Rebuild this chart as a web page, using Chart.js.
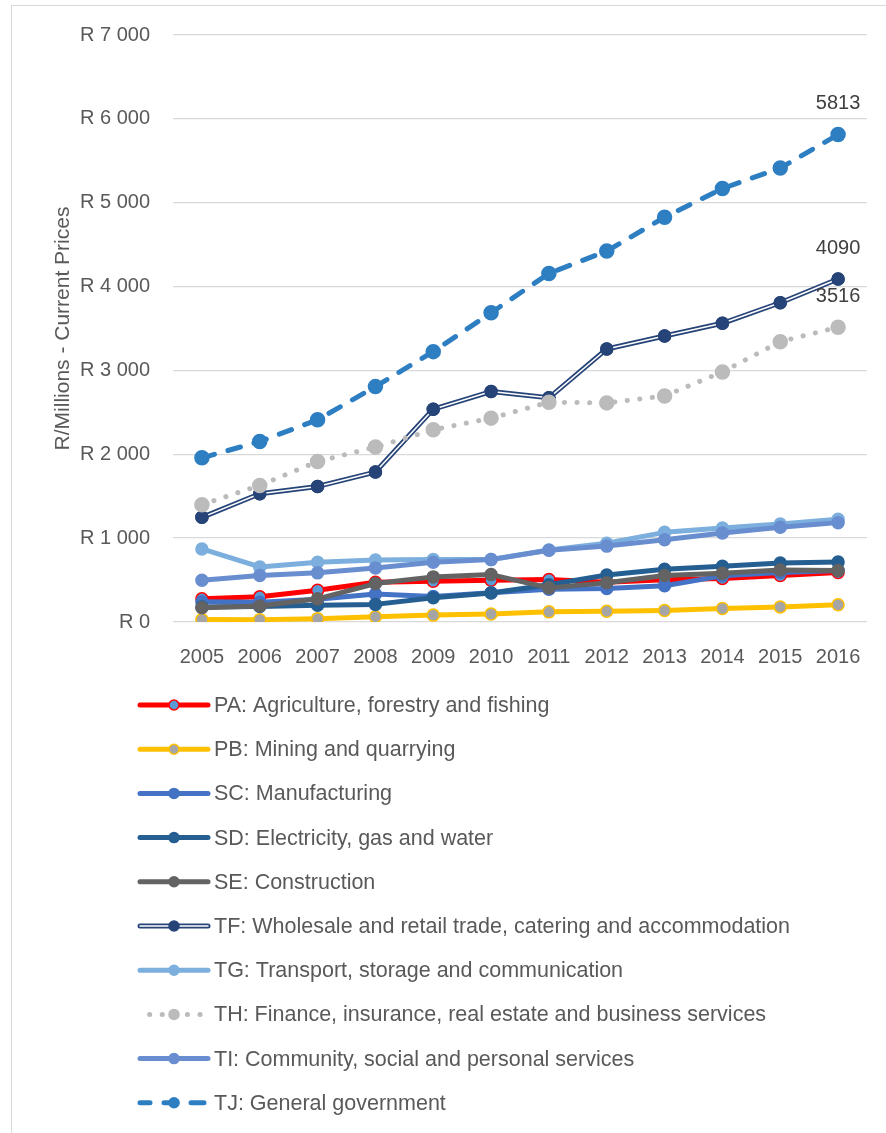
<!DOCTYPE html>
<html>
<head>
<meta charset="utf-8">
<script src="https://cdn.jsdelivr.net/npm/chart.js@4.4.1/dist/chart.umd.min.js"></script>
<style>
  html, body { margin: 0; padding: 0; background: #fff; overflow: hidden; }
  #wrap { position: relative; width: 886px; height: 1133px; }
  #frame { position: absolute; left: 11px; top: 5px; right: -5px; bottom: -5px; border: 1px solid #d9d9d9; }
  #chart { position: absolute; left: 0; top: 0; }
</style>
</head>
<body>
<div id="wrap">
  <div id="frame"></div>
  <canvas id="chart" width="886" height="1133"></canvas>
</div>
<script>
// GDP by industry, R millions at current prices
const years = ['2005', '2006', '2007', '2008', '2009', '2010', '2011', '2012', '2013', '2014', '2015', '2016'];

const agriculture   = [276, 300, 379, 474, 486, 498, 508, 475, 505, 520, 555, 590];
const mining        = [30, 28, 40, 62, 82, 95, 121, 127, 137, 161, 180, 205];
const manufacturing = [240, 235, 272, 335, 305, 350, 390, 400, 432, 550, 590, 615];
const electricity   = [178, 185, 200, 210, 288, 345, 445, 560, 628, 665, 703, 715];
const construction  = [169, 190, 276, 458, 538, 565, 407, 467, 555, 580, 620, 615];
const trade         = [1248, 1530, 1617, 1788, 2538, 2748, 2673, 3256, 3411, 3562, 3807, 4090];
const transport     = [871, 657, 712, 740, 744, 745, 858, 940, 1069, 1121, 1169, 1225];
const finance       = [1399, 1629, 1914, 2086, 2292, 2431, 2621, 2613, 2696, 2982, 3343, 3516];
const community     = [498, 554, 586, 645, 712, 744, 855, 905, 982, 1062, 1129, 1185];
const government    = [1958, 2152, 2411, 2807, 3224, 3688, 4157, 4423, 4827, 5169, 5413, 5813];

const FONT = "'Liberation Sans', Arial, sans-serif";
const TEXT = '#595959';

function series(label, data, color, extra) {
  return Object.assign({
    label: label,
    data: data,
    borderColor: color,
    backgroundColor: color,
    pointBackgroundColor: color,
    pointBorderColor: color,
    borderWidth: 5,
    pointRadius: 6,
    pointBorderWidth: 1.5,
    tension: 0,
    borderCapStyle: 'round',
    borderJoinStyle: 'round',
    fill: false
  }, extra || {});
}

const datasets = [
  series('PA: Agriculture, forestry and fishing', agriculture, '#FF0000', { pointBackgroundColor: '#5B9BD5' }),
  series('PB: Mining and quarrying', mining, '#FFC000', { pointBackgroundColor: '#A5A5A5' }),
  series('SC: Manufacturing', manufacturing, '#4472C4'),
  series('SD: Electricity, gas and water', electricity, '#255E91'),
  series('SE: Construction', construction, '#636363'),
  series('TF: Wholesale and retail trade, catering and accommodation', trade, '#264478', { doubleLine: true, endLabel: true }),
  series('TG: Transport, storage and communication', transport, '#7CAFDD'),
  series('TH: Finance, insurance, real estate and business services', finance, '#BBBBBB', { borderDash: [0.1, 12.5], pointRadius: 7, endLabel: true }),
  series('TI: Community, social and personal services', community, '#698ED0'),
  series('TJ: General government', government, '#2E7EC2', { borderDash: [13, 14], pointRadius: 7, endLabel: true })
];
// later series sit on top of earlier ones
datasets.forEach((ds, i) => { ds.order = datasets.length - i; });

function randThousands(v) {
  return 'R ' + String(v).replace(/\B(?=(\d{3})+(?!\d))/g, ' ');
}

// white core stroke for the double-line series, then points again on top
const doubleLine = {
  id: 'doubleLine',
  afterDatasetDraw(chart, args) {
    const ds = chart.data.datasets[args.index];
    if (!ds.doubleLine) return;
    const pts = args.meta.data;
    const ctx = chart.ctx;
    ctx.save();
    ctx.strokeStyle = '#ffffff';
    ctx.lineWidth = 1.5;
    ctx.lineJoin = 'round';
    ctx.beginPath();
    pts.forEach((p, i) => { if (i === 0) ctx.moveTo(p.x, p.y); else ctx.lineTo(p.x, p.y); });
    ctx.stroke();
    ctx.restore();
    pts.forEach(p => p.draw(ctx, chart.chartArea));
  }
};

// value above the last point
const endLabels = {
  id: 'endLabels',
  afterDatasetsDraw(chart) {
    const ctx = chart.ctx;
    ctx.save();
    ctx.font = '20px ' + FONT;
    ctx.fillStyle = '#404040';
    ctx.textAlign = 'center';
    ctx.textBaseline = 'middle';
    chart.data.datasets.forEach((ds, i) => {
      if (!ds.endLabel) return;
      const last = ds.data.length - 1;
      const p = chart.getDatasetMeta(i).data[last];
      ctx.fillText(String(ds.data[last]), p.x, p.y - 31);
    });
    ctx.restore();
  }
};

// one legend entry per row under the plot
const rowLegend = {
  id: 'rowLegend',
  afterDraw(chart) {
    const ctx = chart.ctx;
    const x0 = 140, x1 = 208, mx = 174, tx = 214;
    ctx.save();
    chart.data.datasets.forEach((ds, i) => {
      const y = 705 + i * 44.2;
      ctx.save();
      ctx.strokeStyle = ds.borderColor;
      ctx.lineWidth = ds.borderWidth;
      ctx.lineCap = 'round';
      ctx.setLineDash(ds.borderDash || []);
      ctx.lineDashOffset = ds.borderDash ? 3 : 0;
      ctx.beginPath();
      ctx.moveTo(x0, y);
      ctx.lineTo(x1, y);
      ctx.stroke();
      if (ds.doubleLine) {
        ctx.strokeStyle = '#ffffff';
        ctx.lineWidth = 1.5;
        ctx.beginPath();
        ctx.moveTo(x0, y);
        ctx.lineTo(x1, y);
        ctx.stroke();
      }
      ctx.setLineDash([]);
      ctx.beginPath();
      ctx.arc(mx, y, 5, 0, Math.PI * 2);
      ctx.fillStyle = ds.pointBackgroundColor;
      ctx.fill();
      ctx.lineWidth = 1.5;
      ctx.strokeStyle = ds.pointBorderColor;
      ctx.stroke();
      ctx.restore();

      ctx.font = '21.5px ' + FONT;
      ctx.fillStyle = TEXT;
      ctx.textAlign = 'left';
      ctx.textBaseline = 'middle';
      ctx.fillText(ds.label, tx, y + 1);
    });
    ctx.restore();
  }
};

new Chart(document.getElementById('chart'), {
  type: 'line',
  data: { labels: years, datasets: datasets },
  options: {
    responsive: false,
    animation: false,
    layout: { padding: { top: 34, right: 19, left: 0, bottom: 0 } },
    plugins: {
      legend: { display: false },
      tooltip: { enabled: false }
    },
    scales: {
      x: {
        offset: true,
        grid: { display: false },
        border: { display: false },
        ticks: { color: TEXT, font: { family: FONT, size: 20 }, padding: 15, maxRotation: 0 },
        afterFit(scale) { scale.height = 1133 - 622; }
      },
      y: {
        min: 0,
        max: 7000,
        grid: { color: '#d9d9d9', lineWidth: 1.3, drawTicks: false },
        border: { display: false },
        ticks: {
          stepSize: 1000,
          padding: 23,
          color: TEXT,
          font: { family: FONT, size: 20 },
          callback: v => randThousands(v)
        },
        title: {
          display: true,
          text: 'R/Millions - Current Prices',
          color: TEXT,
          font: { family: FONT, size: 21 },
          padding: { top: 51, bottom: 0 }
        },
        afterFit(scale) { scale.width = 173; }
      }
    }
  },
  plugins: [doubleLine, endLabels, rowLegend]
});
</script>
</body>
</html>
